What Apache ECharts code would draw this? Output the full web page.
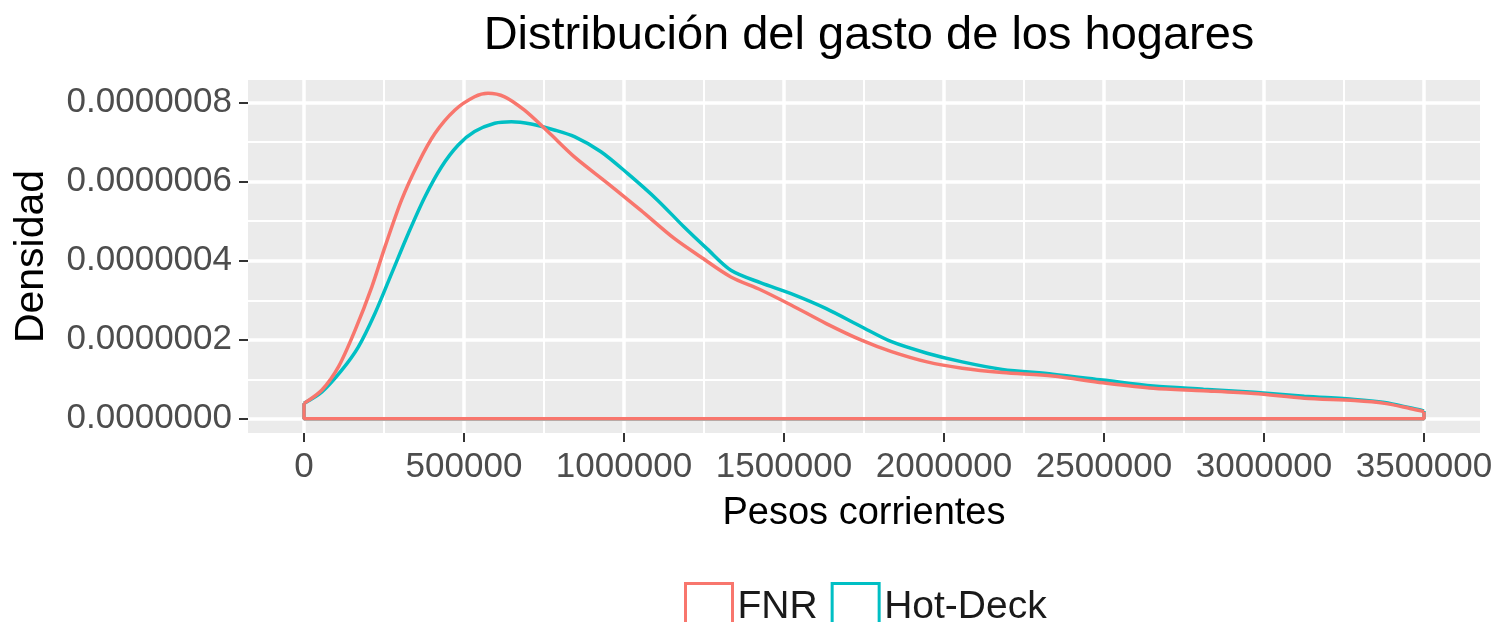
<!DOCTYPE html>
<html>
<head>
<meta charset="utf-8">
<script src="https://cdn.jsdelivr.net/npm/echarts@6/dist/echarts.min.js"></script>
<style>
  html, body { margin: 0; background: #fff; }
  #chart { width: 1499px; height: 622px; }
</style>
</head>
<body>
<div id="chart"></div>
<script>
// density, y in units of 1e-6
const fnrX = [0, 56000, 108000, 160000, 212000, 253000, 305000, 357000, 409000, 471000,
  533000, 575000, 627000, 689000, 762000, 845000, 949000, 1052000, 1156000, 1239000,
  1334000, 1428000, 1522000, 1632000, 1742000, 1836000, 1947000, 2057000, 2182000, 2340000,
  2497000, 2654000, 2811000, 2969000, 3126000, 3283000, 3377000, 3456000, 3500000];
const fnrY = [0.039, 0.073, 0.132, 0.225, 0.334, 0.435, 0.554, 0.647, 0.722, 0.781,
  0.815, 0.824, 0.815, 0.781, 0.727, 0.663, 0.596, 0.528, 0.457, 0.41,
  0.359, 0.326, 0.288, 0.241, 0.199, 0.170, 0.144, 0.128, 0.117, 0.108,
  0.091, 0.077, 0.071, 0.064, 0.052, 0.046, 0.039, 0.026, 0.018];

const hotDeckX = [0, 56000, 118000, 170000, 222000, 274000, 326000, 378000, 430000, 482000,
  533000, 596000, 648000, 710000, 782000, 845000, 928000, 1011000, 1104000, 1187000,
  1260000, 1334000, 1428000, 1522000, 1632000, 1742000, 1836000, 1947000, 2057000, 2182000,
  2340000, 2497000, 2654000, 2811000, 2969000, 3126000, 3283000, 3377000, 3456000, 3500000];
const hotDeckY = [0.039, 0.068, 0.123, 0.182, 0.267, 0.368, 0.469, 0.562, 0.638, 0.693,
  0.727, 0.748, 0.752, 0.746, 0.731, 0.714, 0.676, 0.621, 0.554, 0.486,
  0.43, 0.376, 0.344, 0.317, 0.279, 0.233, 0.195, 0.166, 0.144, 0.125,
  0.113, 0.098, 0.083, 0.075, 0.067, 0.057, 0.049, 0.041, 0.028, 0.020];

const xTicks = [0, 500000, 1000000, 1500000, 2000000, 2500000, 3000000, 3500000];
const xMinor = [250000, 750000, 1250000, 1750000, 2250000, 2750000, 3250000];
const yTicks = [0, 0.2, 0.4, 0.6, 0.8];
const yMinor = [0.1, 0.3, 0.5, 0.7];

const groups = [
  { name: "Hot-Deck", color: "#00BFC4", xs: hotDeckX, ys: hotDeckY },
  { name: "FNR", color: "#F8766D", xs: fnrX, ys: fnrY },
];

const FONT = "'Liberation Sans', Arial, sans-serif";

function curvePoints(g) {
  return g.xs.map((x, i) => [x, g.ys[i]]);
}

// closing outline of the density polygon: down to zero, along the base, back up
function basePoints(g) {
  const last = g.xs.length - 1;
  return [[g.xs[0], g.ys[0]], [g.xs[0], 0], [g.xs[last], 0], [g.xs[last], g.ys[last]]];
}

const series = [];
groups.forEach((g) => {
  series.push({
    name: g.name,
    type: "line",
    data: curvePoints(g),
    smooth: 0.3,
    showSymbol: false,
    lineStyle: { color: g.color, width: 3.5 },
    itemStyle: { color: g.color },
  });
  series.push({
    name: g.name,
    type: "line",
    data: basePoints(g),
    showSymbol: false,
    lineStyle: { color: g.color, width: 3.5 },
    itemStyle: { color: g.color },
  });
});

const hiddenAxisParts = {
  axisLine: { show: false, onZero: false },
  axisLabel: { show: false },
};

const chart = echarts.init(document.getElementById("chart"));
chart.setOption({
  animation: false,
  backgroundColor: "#fff",
  title: {
    text: "Distribución del gasto de los hogares",
    left: 864,
    textAlign: "center",
    top: 8,
    textStyle: { fontFamily: FONT, fontSize: 47, fontWeight: "normal", color: "#000" },
  },
  grid: {
    left: 248,
    right: 19,
    top: 80,
    bottom: 189,
    show: true,
    backgroundColor: "#EBEBEB",
    borderWidth: 0,
  },
  legend: {
    data: [
      { name: "FNR", itemStyle: { color: "#fff", borderColor: "#F8766D", borderWidth: 3 } },
      { name: "Hot-Deck", itemStyle: { color: "#fff", borderColor: "#00BFC4", borderWidth: 3 } },
    ],
    icon: "rect",
    left: 679,
    top: 577,
    itemWidth: 47,
    itemHeight: 47,
    itemGap: 13,
    lineStyle: { opacity: 0 },
    textStyle: { fontFamily: FONT, fontSize: 39, color: "#1a1a1a" },
  },
  xAxis: [
    {
      type: "value",
      min: -175000,
      max: 3675000,
      name: "Pesos corrientes",
      nameLocation: "middle",
      nameGap: 62,
      nameTextStyle: { fontFamily: FONT, fontSize: 38, color: "#000" },
      axisLine: { show: false, onZero: false },
      axisTick: { show: true, length: 9, customValues: xTicks, lineStyle: { color: "#333", width: 2 } },
      axisLabel: {
        customValues: xTicks,
        margin: 17,
        fontFamily: FONT,
        fontSize: 35,
        color: "#4d4d4d",
        formatter: (v) => String(v),
      },
      splitLine: { show: true, lineStyle: { color: "#fff", width: 3.5 } },
    },
    {
      type: "value",
      position: "bottom",
      min: -175000,
      max: 3675000,
      ...hiddenAxisParts,
      axisTick: { show: false, customValues: xMinor },
      splitLine: { show: true, lineStyle: { color: "#fff", width: 2 } },
    },
  ],
  yAxis: [
    {
      type: "value",
      min: -0.036,
      max: 0.8575,
      name: "Densidad",
      nameLocation: "middle",
      nameGap: 196,
      nameTextStyle: { fontFamily: FONT, fontSize: 41, color: "#000" },
      axisLine: { show: false, onZero: false },
      axisTick: { show: true, length: 9, customValues: yTicks, lineStyle: { color: "#333", width: 2 } },
      axisLabel: {
        customValues: yTicks,
        margin: 16,
        fontFamily: FONT,
        fontSize: 35,
        color: "#4d4d4d",
        formatter: (v) => (v / 1e6).toFixed(7),
      },
      splitLine: { show: true, lineStyle: { color: "#fff", width: 3.5 } },
    },
    {
      type: "value",
      position: "left",
      min: -0.036,
      max: 0.8575,
      ...hiddenAxisParts,
      axisTick: { show: false, customValues: yMinor },
      splitLine: { show: true, lineStyle: { color: "#fff", width: 2 } },
    },
  ],
  series: series,
});
</script>
</body>
</html>
